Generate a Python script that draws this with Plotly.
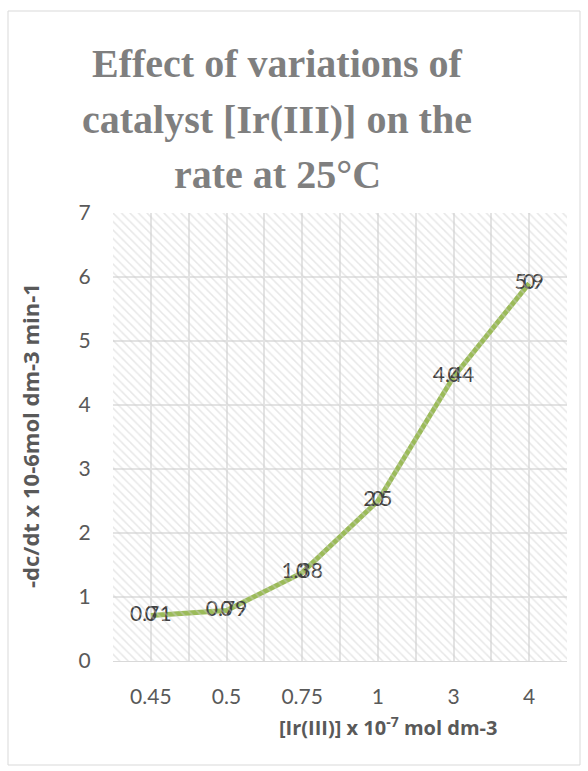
import plotly.graph_objects as go

# Catalyst concentration categories and measured rates
categories = ["0.45", "0.5", "0.75", "1", "3", "4"]
rates = [0.71, 0.79, 1.38, 2.5, 4.44, 5.9]
rate_labels = ["0.71", "0.79", "1.38", "2.5", "4.44", "5.9"]
overlay_labels = ["0", "0", "0", "0", "0", "0"]
y_ticks = [0, 1, 2, 3, 4, 5, 6, 7]

W, H = 588, 771
L, R, T, B = 113, 21, 213, 110
pw, ph = W - L - R, H - T - B

def px_x(p):
    return (p - L) / pw

def px_y(p):
    return (H - B - p) / ph

xs = list(range(len(categories)))
SANS = "Lato, Open Sans, Liberation Sans"
BOLD_SANS = "Open Sans, Liberation Sans"

fig = go.Figure()

# hatched plot-area background
fig.add_trace(go.Scatter(
    x=[0, 1, 1, 0, 0], y=[0, 0, 1, 1, 0], xaxis="x2", yaxis="y2",
    mode="lines", line=dict(width=0), fill="toself",
    fillcolor="rgba(0,0,0,0)",
    fillpattern=dict(shape="\\", fgcolor="#d0d0d0", bgcolor="rgba(0,0,0,0)",
                     size=6, solidity=0.25),
    hoverinfo="skip", showlegend=False,
))

fig.add_trace(go.Scatter(
    x=xs, y=rates, mode="lines+text", text=rate_labels,
    textposition="middle center",
    textfont=dict(family=SANS, size=21, color="#404040"),
    line=dict(color="#9bbb59", width=5),
    showlegend=False,
))
fig.add_trace(go.Scatter(
    x=xs, y=rates, mode="text", text=overlay_labels,
    textposition="middle center",
    textfont=dict(family=SANS, size=21, color="#404040"),
    showlegend=False,
))

fig.update_layout(
    width=W, height=H,
    margin=dict(l=L, r=R, t=T, b=B),
    paper_bgcolor="white", plot_bgcolor="white",
    xaxis=dict(
        range=[-0.5, 5.5], tickmode="array", tickvals=xs, ticktext=categories,
        showgrid=True, gridcolor="#e3e3e3", gridwidth=1.5,
        minor=dict(tickmode="linear", tick0=-0.5, dtick=1, showgrid=True,
                   gridcolor="#e3e3e3", gridwidth=1.5),
        zeroline=False, showline=True, linecolor="#d9d9d9", linewidth=1,
        ticks="outside", ticklen=17, tickcolor="rgba(0,0,0,0)",
        tickfont=dict(family=SANS, size=21, color="#595959"),
        fixedrange=True,
    ),
    yaxis=dict(
        range=[0, 7], tickmode="array", tickvals=y_ticks,
        showgrid=True, gridcolor="#e3e3e3", gridwidth=1.5,
        zeroline=False, showline=False,
        ticks="outside", ticklen=17, tickcolor="rgba(0,0,0,0)",
        tickfont=dict(family=SANS, size=21, color="#595959"),
        fixedrange=True,
    ),
    xaxis2=dict(range=[0, 1], overlaying="x", visible=False, fixedrange=True),
    yaxis2=dict(range=[0, 1], overlaying="y", visible=False, fixedrange=True),
)

title_lines = ["Effect of variations of", "catalyst [Ir(III)] on the", "rate at 25°C"]
title_y = [63, 120, 174]
for line, yy in zip(title_lines, title_y):
    fig.add_annotation(
        text=f"<b>{line}</b>", xref="paper", yref="paper",
        x=px_x(277), y=px_y(yy), xanchor="center", yanchor="middle",
        showarrow=False,
        font=dict(family="Liberation Serif", size=40, color="#7f7f7f"),
    )

fig.add_annotation(
    text="<b>-dc/dt x 10-6mol dm-3 min-1</b>", xref="paper", yref="paper",
    x=px_x(30), y=px_y(436), xanchor="center", yanchor="middle",
    textangle=-90, showarrow=False,
    font=dict(family=BOLD_SANS, size=22, color="#595959"),
)
fig.add_annotation(
    text="<b>[Ir(III)] x 10<sup>-7</sup> mol dm-3</b>", xref="paper", yref="paper",
    x=px_x(388), y=px_y(726), xanchor="center", yanchor="middle",
    showarrow=False,
    font=dict(family=BOLD_SANS, size=20, color="#595959"),
)

# chart-area border
fig.add_shape(
    type="rect", xref="paper", yref="paper",
    x0=px_x(8), x1=px_x(580), y0=px_y(765), y1=px_y(11),
    line=dict(color="#d9d9d9", width=1), fillcolor="rgba(0,0,0,0)", layer="below",
)

fig.write_html("out.html")
